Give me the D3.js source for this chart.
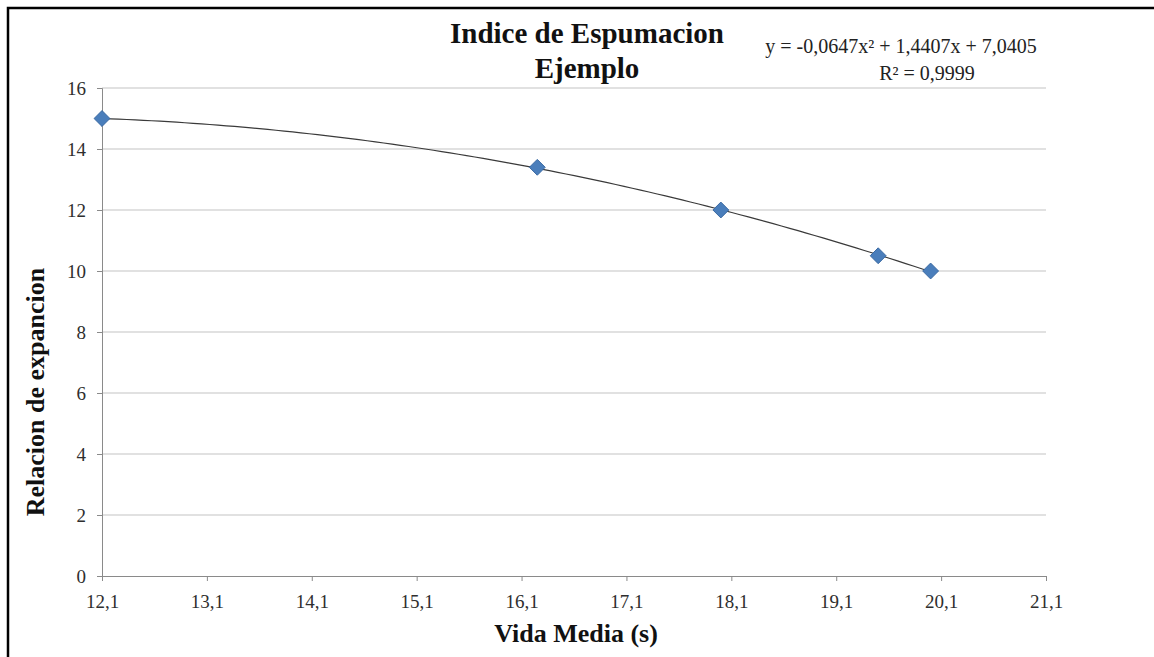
<!DOCTYPE html>
<html>
<head>
<meta charset="utf-8">
<script src="https://cdn.jsdelivr.net/npm/d3@7"></script>
<style>
  body { margin: 0; background: #fff; }
  svg { display: block; font-family: "Liberation Serif", "Times New Roman", serif; }
  .axis text { font-family: "Liberation Serif", "Times New Roman", serif; font-size: 19px; fill: #2e2e2e; }
</style>
</head>
<body>
<svg id="chart" width="1154" height="657"></svg>
<script>
// datos
const vidaMedia = [12.1, 16.25, 18.0, 19.5, 20.0]
const relacion = [15, 13.4, 12, 10.5, 10]
const xTicks = [12.1, 13.1, 14.1, 15.1, 16.1, 17.1, 18.1, 19.1, 20.1, 21.1]
const yTicks = [0, 2, 4, 6, 8, 10, 12, 14, 16]
// coeficientes de la linea de tendencia (polinomica orden 2), como en la etiqueta
const trendCoef = [7.0405, 1.4407, -0.0647]
const titleLines = ['Indice de Espumacion', 'Ejemplo']
const eqLines = ['y = -0,0647x\u00b2 + 1,4407x + 7,0405', 'R\u00b2 = 0,9999']

const svg = d3.select('#chart')
const plot = { left: 102, right: 1046, top: 88, bottom: 576 }

const x = d3.scaleLinear().domain([12.1, 21.1]).range([plot.left, plot.right])
const y = d3.scaleLinear().domain([0, 16]).range([plot.bottom, plot.top])
const fmt = d => String(d).replace('.', ',')

// marco exterior
svg.append('path')
    .attr('d', 'M8,660 L8,8 L1160,8')
    .attr('fill', 'none')
    .attr('stroke', '#000')
    .attr('stroke-width', 2.5)

// lineas de cuadricula
svg.append('g')
    .selectAll('line')
    .data(yTicks.filter(d => d > 0))
    .join('line')
    .attr('x1', plot.left).attr('x2', plot.right)
    .attr('y1', d => y(d)).attr('y2', d => y(d))
    .attr('stroke', '#c3c3c3')
    .attr('stroke-width', 1)

// eje x
const xAxis = svg.append('g')
    .attr('class', 'axis')
    .attr('transform', `translate(0,${plot.bottom})`)
    .call(d3.axisBottom(x).tickValues(xTicks).tickFormat(fmt).tickSize(5).tickPadding(14))
    .attr('font-family', null)
    .attr('font-size', null)
xAxis.select('.domain').attr('stroke', '#8a8a8a')
xAxis.selectAll('.tick line').attr('stroke', '#8a8a8a')

// eje y
const yAxis = svg.append('g')
    .attr('class', 'axis')
    .attr('transform', `translate(${plot.left},0)`)
    .call(d3.axisLeft(y).tickValues(yTicks).tickSize(5).tickPadding(11))
    .attr('font-family', null)
    .attr('font-size', null)
yAxis.select('.domain').attr('stroke', '#8a8a8a')
yAxis.selectAll('.tick line').attr('stroke', '#8a8a8a')

// linea de tendencia
const xs = d3.range(0, 101).map(i => vidaMedia[0] + (vidaMedia[vidaMedia.length - 1] - vidaMedia[0]) * i / 100)
const trend = xs.map(v => [v, trendCoef[0] + trendCoef[1] * v + trendCoef[2] * v * v])
svg.append('path')
    .datum(trend)
    .attr('fill', 'none')
    .attr('stroke', '#3a3a3a')
    .attr('stroke-width', 1.2)
    .attr('d', d3.line().x(d => x(d[0])).y(d => y(d[1])))

// marcadores
svg.append('g')
    .selectAll('path')
    .data(vidaMedia.map((v, i) => [v, relacion[i]]))
    .join('path')
    .attr('d', d3.symbol().type(d3.symbolDiamond2).size(160))
    .attr('transform', d => `translate(${x(d[0])},${y(d[1])})`)
    .attr('fill', '#4a7ebb')
    .attr('stroke', '#3b6aa3')
    .attr('stroke-width', 1)

// titulo
svg.append('g')
    .selectAll('text')
    .data(titleLines)
    .join('text')
    .attr('x', 587)
    .attr('y', (d, i) => 43 + i * 35)
    .attr('text-anchor', 'middle')
    .style('font-size', '29px')
    .style('font-weight', 'bold')
    .attr('fill', '#111')
    .text(d => d)

// ecuacion
svg.append('g')
    .selectAll('text')
    .data(eqLines)
    .join('text')
    .attr('x', (d, i) => i === 0 ? 901 : 927)
    .attr('y', (d, i) => 53 + i * 27)
    .attr('text-anchor', 'middle')
    .style('font-size', '20px')
    .attr('fill', '#222')
    .text(d => d)

// titulos de ejes
svg.append('text')
    .attr('x', 576)
    .attr('y', 642)
    .attr('text-anchor', 'middle')
    .style('font-size', '26px')
    .style('font-weight', 'bold')
    .attr('fill', '#111')
    .text('Vida Media (s)')

svg.append('text')
    .attr('transform', 'translate(44,392) rotate(-90)')
    .attr('text-anchor', 'middle')
    .style('font-size', '26px')
    .style('font-weight', 'bold')
    .attr('fill', '#111')
    .text('Relacion de expancion')
</script>
</body>
</html>
